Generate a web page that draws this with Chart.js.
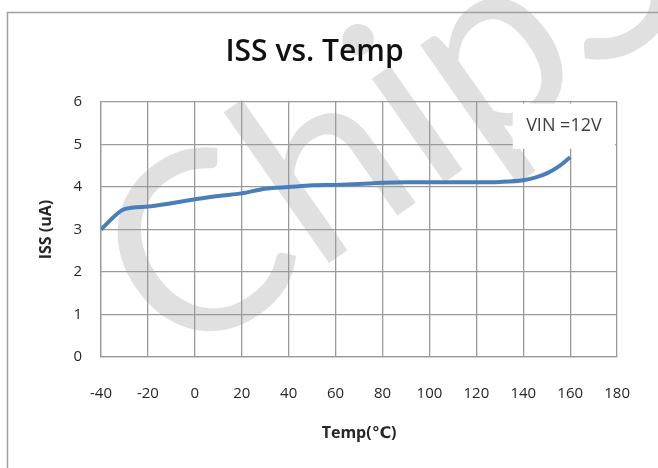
<!DOCTYPE html>
<html>
<head>
<meta charset="utf-8">
<script src="https://cdn.jsdelivr.net/npm/chart.js@4.4.1/dist/chart.umd.min.js"></script>
<style>
  body { margin: 0; background: #fff; }
</style>
</head>
<body>
<canvas id="iss_temp_chart" width="658" height="468"></canvas>
<script>
Chart.defaults.font.family = "'Open Sans', 'DejaVu Sans', sans-serif";
Chart.defaults.color = '#262626';

// temperature (C) along the curve
const temps = [-40, -30, -20, -10, 0, 10, 20, 30, 40, 50, 60, 70, 80, 90, 100, 110, 120, 130, 140, 145, 150, 155, 160];
// ISS in uA
const iss_values = [3.0, 3.48, 3.54, 3.62, 3.71, 3.79, 3.85, 3.96, 4.0, 4.04, 4.05, 4.07, 4.1, 4.11, 4.11, 4.11, 4.11, 4.12, 4.16, 4.22, 4.32, 4.48, 4.7];
const label_vin = 'VIN =12V';
const watermark_text = 'ChipS';

const gridColor = '#9a9a9a';

// watermark + outer frame, drawn under everything
const backdrop = {
  id: 'backdrop',
  beforeDraw(chart) {
    const ctx = chart.ctx;
    ctx.save();
    ctx.fillStyle = '#fff';
    ctx.fillRect(0, 0, chart.width, chart.height);
    ctx.translate(178, 369);
    ctx.rotate(-35 * Math.PI / 180);
    ctx.font = "250px Lato";
    ctx.fillStyle = 'rgba(0,0,0,0.12)';
    ctx.fillText(watermark_text, 0, 0);
    ctx.restore();

    ctx.save();
    ctx.strokeStyle = '#a0a0a0';
    ctx.lineWidth = 1.5;
    ctx.beginPath();
    ctx.moveTo(7.5, chart.height);
    ctx.lineTo(7.5, 12.5);
    ctx.lineTo(chart.width, 12.5);
    ctx.stroke();
    ctx.restore();
  },
  // the VIN label sits in a white box over the grid
  beforeDatasetsDraw(chart) {
    const ctx = chart.ctx;
    const x = chart.scales.x, y = chart.scales.y;
    const left = x.getPixelForValue(135.5);
    const right = chart.chartArea.right - 2;
    const top = chart.chartArea.top + 1.5;
    const bottom = y.getPixelForValue(4.9);
    ctx.save();
    ctx.fillStyle = '#fff';
    ctx.fillRect(left, top, right - left, bottom - top);
    ctx.fillStyle = '#404040';
    ctx.font = "18px 'Open Sans'";
    ctx.textAlign = 'center';
    ctx.textBaseline = 'middle';
    ctx.fillText(label_vin, (left + right) / 2, (top + bottom) / 2);
    ctx.restore();
  }
};

const ctx_iss = document.getElementById('iss_temp_chart');
const chart_iss = new Chart(ctx_iss, {
  type: 'line',
  data: {
    datasets: [{
      label: 'ISS',
      data: temps.map((t, i) => ({ x: t, y: iss_values[i] })),
      borderColor: '#4a7ebb',
      borderWidth: 4,
      pointRadius: 0,
      cubicInterpolationMode: 'monotone',
      fill: false,
    }],
  },
  options: {
    responsive: false,
    animation: false,
    layout: { padding: { left: 7, right: 36, top: 0, bottom: 0 } },
    scales: {
      x: {
        type: 'linear',
        min: -40,
        max: 180,
        ticks: { stepSize: 20, padding: 28, font: { size: 15 } },
        grid: { color: gridColor, lineWidth: 1.3, drawTicks: false },
        border: { color: gridColor, width: 1.3 },
        title: {
          display: true,
          text: 'Temp(℃)',
          font: { size: 16, weight: 'bold' },
          padding: { top: 0, bottom: 25 },
        },
        afterFit(scale) { scale.height = 111; },
      },
      y: {
        min: 0,
        max: 6,
        ticks: { stepSize: 1, padding: 19, font: { size: 15 } },
        grid: { color: gridColor, lineWidth: 1.3, drawTicks: false },
        border: { color: gridColor, width: 1.3 },
        title: {
          display: true,
          text: 'ISS (uA)',
          font: { size: 16, weight: 'bold' },
          padding: { top: 30, bottom: 0 },
        },
        afterFit(scale) { scale.width = 94; },
      },
    },
    plugins: {
      legend: { display: false },
      tooltip: { enabled: false },
      title: {
        display: true,
        text: 'ISS vs. Temp',
        color: '#111',
        font: { size: 30, weight: '600' },
        padding: { top: 34, bottom: 32 },
      },
    },
  },
  plugins: [backdrop],
});
</script>
</body>
</html>
